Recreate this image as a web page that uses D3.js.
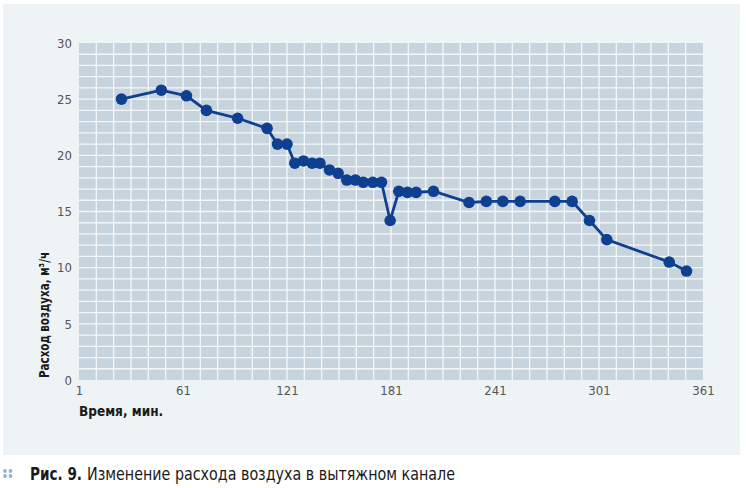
<!DOCTYPE html>
<html>
<head>
<meta charset="utf-8">
<script src="https://cdn.jsdelivr.net/npm/d3@7"></script>
<style>
  body { margin: 0; background: #fff; }
  text { font-family: "DejaVu Sans Condensed", "Liberation Sans Narrow", "DejaVu Sans", sans-serif; font-stretch: condensed; }
</style>
</head>
<body>
<svg id="chart" width="746" height="488"></svg>
<script>
// time, minutes
const times = [25.5, 48.5, 63, 74.5, 92.5, 109.5, 115.5, 121, 125.5, 130.5, 135.5, 140, 145.5, 150.5, 155.5, 160.5, 165, 170.5, 175.5, 180.5,
               185.5, 190.5, 195.5, 205.5, 226, 236, 245.5, 255.5, 275.5, 285.5, 295.5, 305.5, 341.5, 351.5];
// air flow, m3/h
const flows = [25.0, 25.8, 25.3, 24.0, 23.3, 22.4, 21.0, 21.0, 19.3, 19.5, 19.3, 19.3, 18.7, 18.4, 17.8, 17.8, 17.6, 17.6, 17.6, 14.2,
               16.8, 16.7, 16.7, 16.8, 15.8, 15.9, 15.9, 15.9, 15.9, 15.9, 14.2, 12.5, 10.5, 9.7];
const xTicks = [1, 61, 121, 181, 241, 301, 361];
const yTicks = [0, 5, 10, 15, 20, 25, 30];
const yLabel = "Расход воздуха, м³/ч";
const xLabel = "Время, мин.";
const capNum = "Рис. 9.";
const capText = "Изменение расхода воздуха в вытяжном канале";

const svg = d3.select("#chart");
const plotLeft = 79, plotRight = 703, plotTop = 43, plotBottom = 380;

//panel background
svg.append("rect").attr("x", 3).attr("y", 4).attr("width", 737).attr("height", 451).attr("fill", "#eef3f6");

const x = d3.scaleLinear().domain([1, 361]).range([plotLeft, plotRight]);
const y = d3.scaleLinear().domain([0, 30]).range([plotBottom, plotTop]);

svg.append("rect")
    .attr("x", plotLeft).attr("y", plotTop)
    .attr("width", plotRight - plotLeft).attr("height", plotBottom - plotTop)
    .attr("fill", "#c8d4dd");

// grid: every 10 min, every 1 unit
const grid = svg.append("g").attr("stroke", "#f4f7f9").attr("stroke-width", 1.3);
grid.selectAll("line.v")
    .data(d3.range(11, 361, 10))
    .join("line")
    .attr("class", "v")
    .attr("x1", d => x(d)).attr("x2", d => x(d))
    .attr("y1", plotTop).attr("y2", plotBottom);
grid.selectAll("line.h")
    .data(d3.range(1, 30))
    .join("line")
    .attr("class", "h")
    .attr("x1", plotLeft).attr("x2", plotRight)
    .attr("y1", d => y(d)).attr("y2", d => y(d));

const xAxis = svg.append("g")
    .attr("transform", `translate(0,${plotBottom})`)
    .call(d3.axisBottom(x).tickValues(xTicks).tickSize(0).tickPadding(6));
xAxis.select(".domain").remove();
xAxis.selectAll("text").attr("font-size", 13).attr("fill", "#555");

const yAxis = svg.append("g")
    .attr("transform", `translate(${plotLeft},0)`)
    .call(d3.axisLeft(y).tickValues(yTicks).tickSize(0).tickPadding(7));
yAxis.select(".domain").remove();
yAxis.selectAll("text").attr("font-size", 13).attr("fill", "#555");

svg.append("text")
    .attr("transform", `translate(49,378) rotate(-90)`)
    .attr("font-size", 13.5).attr("font-weight", "bold").attr("fill", "#1a1a1a")
    .attr("textLength", 126).attr("lengthAdjust", "spacingAndGlyphs")
    .text(yLabel);

svg.append("text")
    .attr("x", plotLeft).attr("y", 416)
    .attr("font-size", 13.5).attr("font-weight", "bold").attr("fill", "#1a1a1a")
    .text(xLabel);

const pts = times.map((t, i) => [t, flows[i]]);

svg.append("path")
    .datum(pts)
    .attr("fill", "none")
    .attr("stroke", "#0f3f90")
    .attr("stroke-width", 2.8)
    .attr("d", d3.line().x(d => x(d[0])).y(d => y(d[1])));

svg.append("g")
    .selectAll("circle")
    .data(pts)
    .join("circle")
    .attr("cx", d => x(d[0]))
    .attr("cy", d => y(d[1]))
    .attr("r", 5.8)
    .attr("fill", "#0f3f90");

// caption
const dots = svg.append("g").attr("fill", "#8fb4dc");
[[5, 471], [10.5, 471], [5, 476], [10.5, 476]].forEach(p => {
    dots.append("circle").attr("cx", p[0]).attr("cy", p[1]).attr("r", 1.9);
});
svg.append("text").attr("x", 30).attr("y", 480).attr("font-size", 18).attr("fill", "#1a1a1a")
    .attr("font-weight", "bold")
    .attr("textLength", 52).attr("lengthAdjust", "spacingAndGlyphs")
    .text(capNum);
svg.append("text").attr("x", 87).attr("y", 480).attr("font-size", 18).attr("fill", "#1a1a1a")
    .attr("textLength", 368).attr("lengthAdjust", "spacingAndGlyphs")
    .text(capText);
</script>
</body>
</html>
